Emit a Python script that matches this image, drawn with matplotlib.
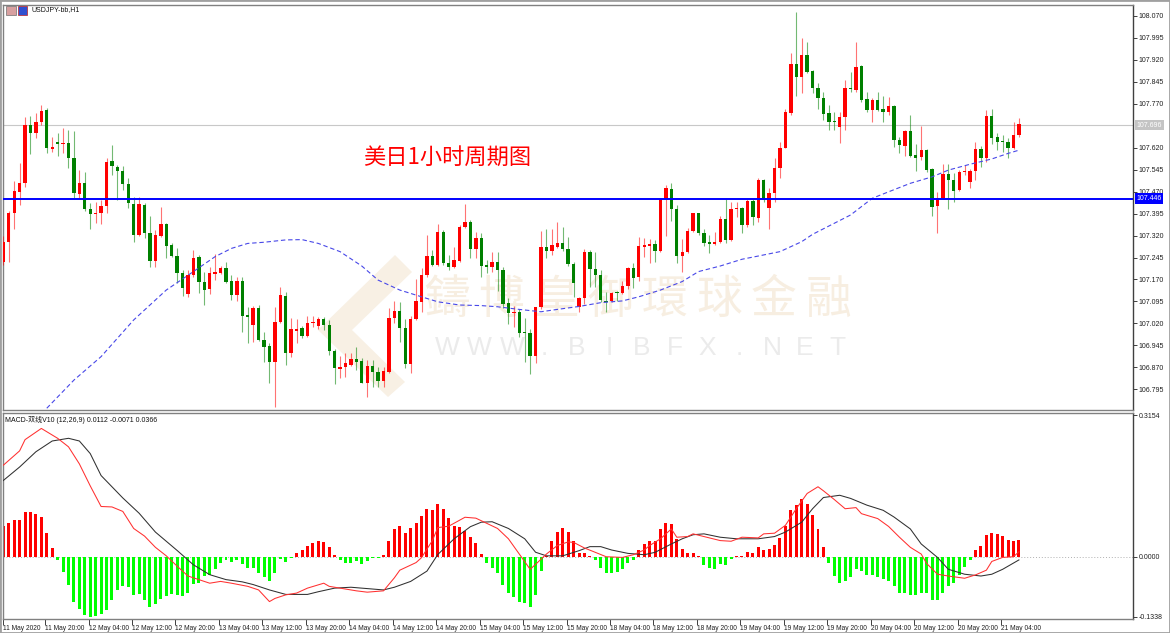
import numpy as np
import matplotlib.pyplot as plt
import matplotlib.transforms as mtransforms
from matplotlib.patches import Polygon, Rectangle

plt.rcParams["font.family"] = ["Liberation Sans", "Noto Sans CJK SC", "DejaVu Sans"]

# -----------------------------
# USDJPY-bb H1 candles, bar 0 = 11 May 12:00 ... bar 187 = 21 May 07:00
# -----------------------------
opens = [
    107.230, 107.297, 107.398, 107.469, 107.498, 107.697, 107.668, 107.706, 107.748, 107.616,
    107.640, 107.631, 107.636, 107.585, 107.461, 107.498, 107.409, 107.394, 107.398, 107.420,
    107.574, 107.555, 107.541, 107.495, 107.427, 107.322, 107.424, 107.330, 107.234, 107.319,
    107.358, 107.288, 107.250, 107.193, 107.120, 107.185, 107.248, 107.163, 107.137, 107.190,
    107.193, 107.210, 107.166, 107.118, 107.165, 107.049, 107.015, 107.072, 106.964, 106.943,
    106.890, 107.026, 107.115, 106.918, 106.996, 107.004, 106.978, 107.021, 107.012, 107.035,
    107.015, 106.927, 106.864, 106.873, 106.879, 106.898, 106.892, 106.818, 106.875, 106.856,
    106.825, 106.856, 107.040, 107.064, 107.004, 106.882, 107.034, 107.094, 107.185, 107.250,
    107.219, 107.333, 107.227, 107.212, 107.234, 107.348, 107.365, 107.273, 107.310, 107.219,
    107.214, 107.231, 107.202, 107.089, 107.055, 107.059, 106.991, 106.987, 106.910, 107.075,
    107.282, 107.268, 107.282, 107.295, 107.274, 107.223, 107.076, 107.106, 107.265, 107.205,
    107.185, 107.098, 107.098, 107.127, 107.123, 107.148, 107.208, 107.177, 107.282, 107.284,
    107.291, 107.268, 107.443, 107.478, 107.410, 107.250, 107.265, 107.336, 107.396, 107.327,
    107.298, 107.291, 107.299, 107.375, 107.305, 107.409, 107.413, 107.356, 107.439, 107.379,
    107.509, 107.413, 107.464, 107.549, 107.619, 107.737, 107.904, 107.861, 107.935, 107.881,
    107.824, 107.790, 107.737, 107.710, 107.691, 107.725, 107.824, 107.816, 107.899, 107.784,
    107.748, 107.782, 107.751, 107.742, 107.761, 107.645, 107.626, 107.676, 107.594, 107.589,
    107.611, 107.546, 107.422, 107.447, 107.529, 107.509, 107.475, 107.535, 107.503, 107.540,
    107.615, 107.585, 107.727, 107.657, 107.642, 107.640, 107.619, 107.663,
]
highs = [
    107.318, 107.405, 107.507, 107.568, 107.723, 107.727, 107.739, 107.765, 107.754, 107.657,
    107.668, 107.685, 107.680, 107.677, 107.543, 107.537, 107.432, 107.435, 107.441, 107.583,
    107.628, 107.560, 107.557, 107.515, 107.450, 107.450, 107.432, 107.386, 107.339, 107.418,
    107.362, 107.295, 107.276, 107.202, 107.202, 107.270, 107.254, 107.197, 107.214, 107.257,
    107.216, 107.231, 107.185, 107.180, 107.180, 107.077, 107.080, 107.083, 106.992, 106.953,
    107.077, 107.143, 107.128, 107.040, 107.035, 107.012, 107.046, 107.046, 107.043, 107.043,
    107.032, 106.932, 106.909, 106.918, 106.921, 106.941, 106.901, 106.895, 106.895, 106.873,
    106.873, 107.072, 107.097, 107.094, 107.034, 107.046, 107.171, 107.208, 107.322, 107.270,
    107.359, 107.339, 107.253, 107.280, 107.356, 107.427, 107.373, 107.333, 107.330, 107.236,
    107.265, 107.265, 107.211, 107.106, 107.080, 107.070, 107.038, 107.000, 107.077, 107.336,
    107.341, 107.341, 107.367, 107.348, 107.316, 107.231, 107.112, 107.273, 107.270, 107.265,
    107.202, 107.128, 107.128, 107.132, 107.165, 107.214, 107.225, 107.316, 107.310, 107.307,
    107.305, 107.447, 107.492, 107.498, 107.424, 107.307, 107.344, 107.398, 107.398, 107.341,
    107.322, 107.333, 107.386, 107.447, 107.435, 107.435, 107.416, 107.443, 107.443, 107.515,
    107.511, 107.481, 107.583, 107.640, 107.751, 107.941, 108.081, 107.994, 107.979, 107.884,
    107.839, 107.808, 107.765, 107.742, 107.740, 107.850, 107.876, 107.979, 107.901, 107.808,
    107.788, 107.808, 107.797, 107.793, 107.765, 107.657, 107.680, 107.731, 107.631, 107.694,
    107.615, 107.549, 107.469, 107.563, 107.563, 107.532, 107.543, 107.560, 107.547, 107.640,
    107.626, 107.748, 107.751, 107.668, 107.663, 107.653, 107.708, 107.720,
]
lows = [
    107.219, 107.230, 107.341, 107.424, 107.486, 107.598, 107.651, 107.697, 107.600, 107.606,
    107.591, 107.600, 107.549, 107.447, 107.447, 107.405, 107.341, 107.364, 107.359, 107.396,
    107.526, 107.441, 107.475, 107.413, 107.299, 107.320, 107.310, 107.212, 107.212, 107.316,
    107.242, 107.246, 107.159, 107.114, 107.111, 107.180, 107.125, 107.083, 107.120, 107.168,
    107.189, 107.157, 107.100, 107.098, 106.992, 106.954, 106.958, 106.961, 106.890, 106.816,
    106.736, 107.021, 106.878, 106.907, 106.953, 106.969, 106.975, 107.009, 107.000, 106.998,
    106.913, 106.814, 106.833, 106.839, 106.875, 106.861, 106.816, 106.768, 106.805, 106.803,
    106.805, 106.852, 107.023, 106.958, 106.867, 106.850, 107.032, 107.060, 107.180, 107.216,
    107.216, 107.219, 107.202, 107.208, 107.231, 107.345, 107.242, 107.242, 107.177, 107.193,
    107.197, 107.132, 107.072, 107.018, 107.007, 106.975, 106.890, 106.848, 106.884, 107.068,
    107.242, 107.253, 107.276, 107.268, 107.216, 107.109, 107.060, 107.086, 107.143, 107.143,
    107.094, 107.060, 107.094, 107.098, 107.120, 107.137, 107.140, 107.166, 107.248, 107.225,
    107.231, 107.265, 107.318, 107.370, 107.227, 107.197, 107.259, 107.333, 107.322, 107.284,
    107.261, 107.288, 107.295, 107.295, 107.302, 107.384, 107.327, 107.350, 107.356, 107.367,
    107.435, 107.341, 107.435, 107.517, 107.617, 107.731, 107.797, 107.805, 107.873, 107.805,
    107.751, 107.714, 107.680, 107.680, 107.634, 107.680, 107.808, 107.810, 107.776, 107.742,
    107.706, 107.745, 107.708, 107.731, 107.623, 107.600, 107.592, 107.589, 107.540, 107.577,
    107.537, 107.387, 107.327, 107.444, 107.410, 107.435, 107.472, 107.526, 107.481, 107.509,
    107.555, 107.572, 107.631, 107.611, 107.606, 107.585, 107.615, 107.657,
]
closes = [
    107.299, 107.396, 107.472, 107.498, 107.697, 107.668, 107.706, 107.745, 107.617, 107.621,
    107.632, 107.636, 107.585, 107.464, 107.498, 107.409, 107.393, 107.398, 107.420, 107.572,
    107.557, 107.541, 107.495, 107.430, 107.322, 107.426, 107.330, 107.234, 107.322, 107.358,
    107.285, 107.250, 107.191, 107.140, 107.185, 107.244, 107.163, 107.134, 107.191, 107.196,
    107.210, 107.163, 107.118, 107.165, 107.046, 107.043, 107.072, 106.964, 106.941, 106.890,
    107.026, 107.117, 106.918, 107.000, 107.001, 106.978, 107.023, 107.026, 107.035, 107.015,
    106.927, 106.867, 106.873, 106.884, 106.898, 106.890, 106.818, 106.875, 106.856, 106.825,
    106.858, 107.040, 107.064, 107.004, 106.882, 107.035, 107.097, 107.185, 107.250, 107.219,
    107.333, 107.227, 107.212, 107.236, 107.350, 107.365, 107.273, 107.310, 107.216, 107.212,
    107.231, 107.202, 107.086, 107.055, 107.059, 106.989, 106.987, 106.910, 107.075, 107.280,
    107.268, 107.288, 107.295, 107.274, 107.223, 107.157, 107.106, 107.265, 107.205, 107.185,
    107.100, 107.094, 107.125, 107.123, 107.148, 107.208, 107.176, 107.284, 107.287, 107.291,
    107.268, 107.443, 107.481, 107.410, 107.250, 107.265, 107.336, 107.396, 107.327, 107.295,
    107.291, 107.299, 107.375, 107.305, 107.409, 107.415, 107.356, 107.439, 107.384, 107.509,
    107.443, 107.464, 107.549, 107.619, 107.740, 107.904, 107.861, 107.935, 107.878, 107.824,
    107.790, 107.734, 107.708, 107.706, 107.725, 107.822, 107.819, 107.895, 107.782, 107.748,
    107.782, 107.748, 107.742, 107.761, 107.645, 107.628, 107.676, 107.592, 107.585, 107.611,
    107.543, 107.418, 107.447, 107.529, 107.509, 107.472, 107.537, 107.541, 107.540, 107.615,
    107.585, 107.727, 107.653, 107.640, 107.638, 107.619, 107.663, 107.699,
]

# blue dashed moving average, read at these bars
ma_bars = [8, 13, 18, 24, 30, 35, 39, 42, 45, 48, 52, 55, 58, 62, 66, 69, 73, 77, 80, 84,
           88, 91, 95, 99, 102, 106, 110, 114, 117, 121, 125, 128, 132, 136, 139, 143, 147, 149,
           156, 160, 163, 167, 171, 174, 178, 182, 185, 187]
ma_values = [106.731, 106.827, 106.907, 107.032, 107.134, 107.197, 107.248, 107.276, 107.293,
             107.297, 107.305, 107.306, 107.293, 107.265, 107.216, 107.168, 107.134, 107.111,
             107.094, 107.083, 107.081, 107.077, 107.068, 107.060, 107.068, 107.078, 107.091,
             107.097, 107.111, 107.134, 107.163, 107.197, 107.216, 107.239, 107.250, 107.265,
             107.299, 107.324, 107.390, 107.447, 107.469, 107.498, 107.520, 107.543, 107.563,
             107.581, 107.600, 107.611]

level_price = 107.446
last_price = 107.696

# -----------------------------
# MACD-双线V10 (12,26,9)
# -----------------------------
macd_hist = [
    0.068, 0.0745, 0.082, 0.081, 0.099, 0.099, 0.096, 0.088, 0.054, 0.020,
    -0.0076, -0.033, -0.062, -0.100, -0.117, -0.130, -0.1338, -0.133, -0.128, -0.119,
    -0.0965, -0.074, -0.066, -0.068, -0.085, -0.084, -0.0965, -0.112, -0.106, -0.094,
    -0.087, -0.084, -0.085, -0.087, -0.081, -0.061, -0.058, -0.043, -0.041, -0.028,
    -0.013, -0.0076, -0.011, -0.0076, -0.017, -0.024, -0.024, -0.036, -0.046, -0.055,
    -0.036, -0.005, -0.011, -0.002, 0.0076, 0.014, 0.025, 0.030, 0.034, 0.033,
    0.021, 0.003, -0.0076, -0.013, -0.013, -0.009, -0.017, -0.009, -0.003, -0.002,
    0.0046, 0.036, 0.061, 0.068, 0.053, 0.063, 0.0745, 0.091, 0.106, 0.105,
    0.118, 0.106, 0.086, 0.068, 0.067, 0.058, 0.043, 0.030, 0.006, -0.013,
    -0.024, -0.036, -0.062, -0.081, -0.089, -0.100, -0.104, -0.112, -0.085, -0.032,
    0.002, 0.036, 0.055, 0.063, 0.055, 0.036, 0.0076, 0.0076, 0.001, -0.0076,
    -0.025, -0.036, -0.036, -0.033, -0.028, -0.013, -0.0076, 0.014, 0.029, 0.036,
    0.036, 0.061, 0.0745, 0.072, 0.040, 0.017, 0.0076, 0.0076, 0.001, -0.018,
    -0.025, -0.028, -0.017, -0.018, -0.005, 0.002, 0.001, 0.0099, 0.0076, 0.021,
    0.015, 0.017, 0.027, 0.042, 0.068, 0.105, 0.116, 0.128, 0.118, 0.093,
    0.061, 0.021, -0.015, -0.043, -0.058, -0.053, -0.046, -0.028, -0.032, -0.040,
    -0.040, -0.045, -0.050, -0.053, -0.066, -0.081, -0.081, -0.085, -0.085, -0.081,
    -0.081, -0.097, -0.097, -0.081, -0.066, -0.058, -0.040, -0.023, -0.0076, 0.014,
    0.023, 0.049, 0.053, 0.050, 0.046, 0.038, 0.036, 0.0366,
]
dif_bars = [0, 3, 4, 7, 10, 12, 14, 16, 18, 20, 22, 24, 26, 28, 30, 32, 34, 36, 38, 40,
            42, 45, 47, 49, 50, 52, 54, 56, 59, 60, 62, 65, 67, 70, 72, 73, 76, 77, 79, 80,
            82, 85, 87, 89, 91, 93, 95, 97, 98, 100, 102, 104, 105, 107, 109, 111, 114, 116, 118, 119,
            121, 123, 124, 126, 127, 129, 132, 134, 136, 139, 140, 142, 144, 146, 148, 150, 151, 153, 155, 157,
            158, 161, 163, 165, 167, 169, 170, 172, 174, 177, 179, 181, 182, 184, 186, 187]
dif_values = [0.204, 0.236, 0.261, 0.286, 0.264, 0.245, 0.207, 0.158, 0.112, 0.111,
              0.101, 0.063, 0.046, 0.021, 0.002, -0.021, -0.043, -0.051, -0.059, -0.055,
              -0.059, -0.066, -0.074, -0.100, -0.093, -0.085, -0.081, -0.070, -0.059, -0.066,
              -0.070, -0.076, -0.079, -0.076, -0.047, -0.030, -0.013, -0.002, 0.036, 0.065,
              0.068, 0.088, 0.086, 0.0745, 0.063, 0.040, 0.006, -0.028, -0.017, 0.006,
              0.025, 0.033, 0.032, 0.0195, 0.0098, 0.0, -0.0015, 0.0045, 0.015, 0.025,
              0.040, 0.062, 0.0435, 0.045, 0.051, 0.045, 0.036, 0.0345, 0.0435, 0.042,
              0.051, 0.0525, 0.070, 0.107, 0.141, 0.156, 0.147, 0.1275, 0.107, 0.1095,
              0.096, 0.085, 0.0675, 0.0435, 0.021, 0.006, -0.015, -0.039, -0.043, -0.048,
              -0.0405, -0.030, -0.0105, -0.0015, 0.0, 0.0112]
dea_bars = [0, 3, 6, 9, 12, 14, 16, 18, 22, 25, 28, 32, 35, 38, 41, 44, 46, 49, 52, 56,
            58, 61, 64, 66, 70, 72, 75, 78, 80, 83, 86, 88, 90, 93, 96, 98, 100, 103, 106, 108,
            110, 112, 115, 118, 120, 123, 125, 127, 129, 132, 135, 139, 142, 144, 147, 149, 151, 154, 156, 159,
            162, 164, 167, 169, 172, 174, 177, 180, 182, 184, 187]
dea_values = [0.170, 0.200, 0.234, 0.258, 0.264, 0.258, 0.230, 0.181, 0.131, 0.097,
              0.055, 0.014, -0.018, -0.040, -0.051, -0.056, -0.062, -0.074, -0.084, -0.084,
              -0.078, -0.070, -0.068, -0.070, -0.074, -0.068, -0.055, -0.032, 0.005, 0.040,
              0.067, 0.077, 0.078, 0.063, 0.040, 0.010, 0.002, 0.002, 0.0135, 0.0225,
              0.0225, 0.015, 0.0075, 0.0045, 0.0098, 0.0285, 0.040, 0.049, 0.051, 0.0435,
              0.040, 0.040, 0.045, 0.055, 0.077, 0.107, 0.132, 0.137, 0.130, 0.115,
              0.1035, 0.0885, 0.062, 0.0285, -0.0015, -0.028, -0.039, -0.043, -0.039, -0.028,
              -0.0071]

price_ticks = [108.070, 107.995, 107.920, 107.845, 107.770, 107.620, 107.545, 107.470,
               107.395, 107.320, 107.245, 107.170, 107.095, 107.020, 106.945, 106.870, 106.795]
macd_ticks = [0.3154, 0.0, -0.1338]
macd_tick_labels = ["0.3154", "0.0000", "-0.1338"]

time_bars = [0, 8, 16, 24, 32, 40, 48, 56, 64, 72, 80, 88, 96, 104, 112, 120, 128, 136,
             144, 152, 160, 168, 176, 184]
time_labels = ["11 May 2020", "11 May 20:00", "12 May 04:00", "12 May 12:00", "12 May 20:00",
               "13 May 04:00", "13 May 12:00", "13 May 20:00", "14 May 04:00", "14 May 12:00",
               "14 May 20:00", "15 May 04:00", "15 May 12:00", "15 May 20:00", "18 May 04:00",
               "18 May 12:00", "18 May 20:00", "19 May 04:00", "19 May 12:00", "19 May 20:00",
               "20 May 04:00", "20 May 12:00", "20 May 20:00", "21 May 04:00"]

# -----------------------------
# Figure layout (pixel based, 1170x633)
# -----------------------------
W, H = 1170, 633
fig = plt.figure(figsize=(W / 100, H / 100), dpi=100)
fig.patch.set_facecolor("white")


def box(x0, y0, x1, y1):
    return [x0 / W, 1 - y1 / H, (x1 - x0) / W, (y1 - y0) / H]


ax = fig.add_axes(box(3, 5, 1133, 410))
axm = fig.add_axes(box(3, 413, 1133, 619))
x_left, x_right = -0.06, 208.0

UP, DOWN = "#ff0000", "#008000"
frame = "#808080"

for a in (ax, axm):
    a.set_xlim(x_left, x_right)
    a.set_facecolor("white")
    for s in a.spines.values():
        s.set_color(frame)
        s.set_linewidth(1.0)
    a.spines["right"].set_color("#404040")
    a.yaxis.tick_right()
    a.tick_params(axis="y", direction="out", length=3, width=0.6, pad=1,
                  labelsize=5, colors="#202020")

# ---- candles ----
o = np.array(opens)
hh = np.array(highs)
ll = np.array(lows)
c = np.array(closes)
bars = np.arange(len(o))
cols = np.where(c >= o, UP, DOWN)
ax.vlines(bars, ll, hh, colors=cols, linewidth=0.8, alpha=0.55, zorder=3)
body_lo = np.minimum(o, c)
body_h = np.maximum(np.abs(c - o), 0.003)
ax.bar(bars, body_h, bottom=body_lo, width=0.62, color=cols, linewidth=0, zorder=4)

ax.plot(ma_bars, ma_values, color="#4848e8", linewidth=0.8, dashes=(4, 2.5), zorder=5)
ax.axhline(level_price, color="#0000ff", linewidth=1.4, zorder=6)
ax.axhline(last_price, color="#c8c8c8", linewidth=0.8, zorder=1)

ax.set_ylim(106.725, 108.106)
ax.set_yticks(price_ticks)
ax.set_yticklabels([f"{v:.3f}" for v in price_ticks])
ax.set_xticks([])

blend = mtransforms.blended_transform_factory(ax.transAxes, ax.transData)
ax.text(1.003, last_price, f"{last_price:.3f}", transform=blend, ha="left", va="center",
        fontsize=5, color="white", zorder=10,
        bbox=dict(boxstyle="square,pad=0.25", fc="#c4c4c4", ec="none"))
ax.text(1.003, level_price, f"{level_price:.3f}", transform=blend, ha="left", va="center",
        fontsize=5, color="white", zorder=10,
        bbox=dict(boxstyle="square,pad=0.25", fc="#0000ff", ec="none"))

# ---- MACD ----
hist = np.array(macd_hist)
axm.axhline(0, color="#b0b0b0", linewidth=0.7, linestyle=(0, (1, 2)), zorder=1)
axm.bar(bars, hist, width=0.55, color=np.where(hist >= 0, "#ff0000", "#00ff00"),
        linewidth=0, zorder=2)
axm.plot(dif_bars, dif_values, color="#ff3030", linewidth=0.75, zorder=4)
axm.plot(dea_bars, dea_values, color="#303030", linewidth=0.75, zorder=3)
axm.set_ylim(-0.1388, 0.3204)
axm.set_yticks(macd_ticks)
axm.set_yticklabels(macd_tick_labels)

axm.set_xticks([max(b - 0.3, 0) for b in time_bars])
axm.set_xticklabels(time_labels)
axm.tick_params(axis="x", direction="out", length=4, width=0.6, pad=0.5,
                labelsize=4.8, colors="#202020")
for t in axm.get_xticklabels():
    t.set_ha("left")

axm.text(0.002, 0.985, "MACD-双线V10 (12,26,9) 0.0112 -0.0071 0.0366", transform=axm.transAxes,
         ha="left", va="top", fontsize=5, color="#101010")

# ---- header, caption and watermark ----
fig.text(31 / W, 1 - 10 / H, "USDJPY-bb,H1", ha="left", va="center", fontsize=5, color="#101010")
fig.patches.append(Rectangle((6 / W, 1 - 15 / H), 10 / W, 9 / H, transform=fig.transFigure,
                             fc="#d8a0a0", ec="#707070", lw=0.5))
fig.patches.append(Rectangle((18 / W, 1 - 15 / H), 9 / W, 9 / H, transform=fig.transFigure,
                             fc="#3050d0", ec="#c02020", lw=0.5))

fig.text(447 / W, 1 - 157 / H, "美日1小时周期图", ha="center", va="center", fontsize=16,
         color="#ff0000", family=["Noto Sans CJK SC", "DejaVu Sans"])

logo = Polygon([(395 / W, 1 - 255 / H), (412 / W, 1 - 272 / H), (352 / W, 1 - 330 / H),
                (405 / W, 1 - 382 / H), (388 / W, 1 - 397 / H), (318 / W, 1 - 330 / H)],
               closed=True, transform=fig.transFigure, fc="#f8f0e4", ec="none", zorder=0.5)
fig.patches.append(logo)
wm_chars = "鑄博皇御環球金融"
for i, ch in enumerate(wm_chars):
    fig.text((447 + i * 54.5) / W, 1 - 300 / H, ch, ha="center", va="center", fontsize=33,
             color="#f7eee1", family=["Noto Sans CJK TC", "DejaVu Sans"], zorder=0.5)
for i, ch in enumerate("WWW.BIBFX.NET"):
    fig.text((447 + i * 32.5) / W, 1 - 348 / H, ch, ha="center", va="center", fontsize=19,
             color="#ebebeb", zorder=0.5)

# window frame
fig.patches.append(Rectangle((0, 0), 1, 1, transform=fig.transFigure, fill=False,
                             ec="#a0a0a0", lw=2.0, zorder=0.2))

for a in (ax, axm):
    a.set_zorder(1)
    a.patch.set_alpha(0)

fig.savefig("out.png", dpi=100, facecolor="white")
